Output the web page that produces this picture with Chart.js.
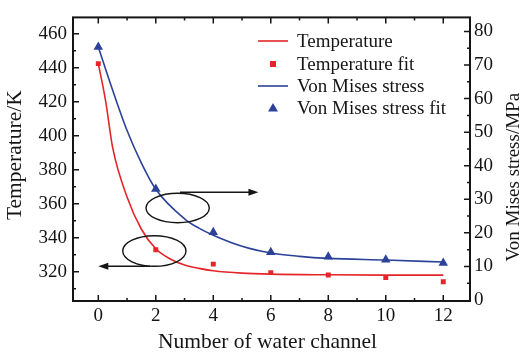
<!DOCTYPE html>
<html>
<head>
<meta charset="utf-8">
<script src="https://cdn.jsdelivr.net/npm/chart.js@4.4.1/dist/chart.umd.min.js"></script>
<style>
  html, body { margin: 0; padding: 0; background: #fff; }
  #wrap { width: 522px; height: 354px; }
  .probe { font-family: "Liberation Serif"; position: absolute; left: -999px; top: 0; }
</style>
</head>
<body>
<span class="probe">Temperature 0123</span>
<div id="wrap"><canvas id="c" width="522" height="354"></canvas></div>
<script>
// measured points (fit markers)
var channels = [0, 2, 4, 6, 8, 10, 12];
var tempFit = [442.4, 333.0, 324.5, 319.5, 318.1, 316.6, 314.1];
var stressFit = [75.4, 33.1, 20.2, 14.2, 12.9, 12.0, 11.0];

// curves
var tempCurveX = [0, 0.25, 0.5, 1, 1.5, 2, 2.5, 3, 3.5, 4, 5, 6, 8, 10, 12];
var tempCurve = [442.4, 421, 393, 364, 345, 333.5, 327.5, 324, 322, 320.6, 319.2, 318.6, 318.2, 318.0, 318.0];
var stressCurveX = [0, 0.5, 1, 1.5, 2, 3, 3.5, 4, 5, 6, 7, 8, 10, 12];
var stressCurve = [75.4, 62.5, 50.5, 40.8, 33.0, 24.2, 21.4, 19.3, 16.0, 14.0, 13.0, 12.4, 11.9, 11.3];

var xTicks = [0, 2, 4, 6, 8, 10, 12];
var tempTicks = [320, 340, 360, 380, 400, 420, 440, 460];
var stressTicks = [0, 10, 20, 30, 40, 50, 60, 70, 80];

var xTitle = 'Number of water channel';
var yTitle = 'Temperature/K';
var y2Title = 'Von Mises stress/MPa';

var red = 'rgb(228,38,42)';
var blue = 'rgb(44,66,152)';
var ink = '#151515';
var serif = '"Liberation Serif", "Times New Roman", Times, serif';

function pairs(xs, ys) {
	var out = [];
	for (var i = 0; i < xs.length; i++) out.push({x: xs[i], y: ys[i]});
	return out;
}
function fixTicks(list) {
	return function (scale) {
		scale.ticks = list.map(function (v) { return {value: v}; });
	};
}

var labels = ['Temperature', 'Temperature fit', 'Von Mises stress', 'Von Mises stress fit'];

var decor = {
	id: 'decor',
	afterDatasetsDraw: function (chart) {
		var ctx = chart.ctx, a = chart.chartArea;
		var sx = chart.scales.x, sy = chart.scales.y, sy2 = chart.scales.y2;
		ctx.save();
		ctx.strokeStyle = ink;
		ctx.fillStyle = ink;

		// inward ticks
		ctx.lineWidth = 1.5;
		ctx.beginPath();
		for (var v = 0; v <= 12; v++) {
			var px = sx.getPixelForValue(v), len = v % 2 === 0 ? 6 : 3;
			ctx.moveTo(px, a.bottom); ctx.lineTo(px, a.bottom - len);
			ctx.moveTo(px, a.top); ctx.lineTo(px, a.top + len);
		}
		for (var t = 310; t <= 460; t += 10) {
			var py = sy.getPixelForValue(t), l2 = t % 20 === 0 ? 6 : 3;
			ctx.moveTo(a.left, py); ctx.lineTo(a.left + l2, py);
		}
		for (var s = 5; s <= 80; s += 5) {
			var py2 = sy2.getPixelForValue(s), l3 = s % 10 === 0 ? 6 : 3;
			ctx.moveTo(a.right, py2); ctx.lineTo(a.right - l3, py2);
		}
		ctx.stroke();

		// frame
		ctx.lineWidth = 2;
		ctx.strokeRect(a.left, a.top, a.right - a.left, a.bottom - a.top);

		// ellipses
		ctx.lineWidth = 1.4;
		ctx.beginPath();
		ctx.ellipse(sx.getPixelForValue(2.76), sy2.getPixelForValue(27.4),
			sx.getPixelForValue(1.1) - sx.getPixelForValue(0),
			sy2.getPixelForValue(0) - sy2.getPixelForValue(4.4), 0, 0, Math.PI * 2);
		ctx.stroke();
		ctx.beginPath();
		ctx.ellipse(sx.getPixelForValue(1.95), sy.getPixelForValue(332.2),
			sx.getPixelForValue(1.1) - sx.getPixelForValue(0),
			sy.getPixelForValue(323.2) - sy.getPixelForValue(332.2), 0, 0, Math.PI * 2);
		ctx.stroke();

		// arrows
		function arrow(x0, x1, y) {
			var dir = x1 > x0 ? 1 : -1;
			ctx.beginPath();
			ctx.moveTo(x0, y); ctx.lineTo(x1 - dir * 6, y);
			ctx.stroke();
			ctx.beginPath();
			ctx.moveTo(x1, y);
			ctx.lineTo(x1 - dir * 10, y - 3.5);
			ctx.lineTo(x1 - dir * 10, y + 3.5);
			ctx.closePath();
			ctx.fill();
		}
		var ya = sy2.getPixelForValue(32.1);
		arrow(sx.getPixelForValue(2.84), sx.getPixelForValue(5.57), ya);
		var yb = sy.getPixelForValue(323.2);
		arrow(sx.getPixelForValue(1.8), sx.getPixelForValue(0), yb);

		// legend
		ctx.font = '19px ' + serif;
		ctx.textBaseline = 'middle';
		ctx.textAlign = 'left';
		var rows = [41, 64, 86, 108];
		for (var i = 0; i < 4; i++) {
			var ds = chart.data.datasets[i], y0 = rows[i];
			if (ds.showLine) {
				ctx.strokeStyle = ds.borderColor;
				ctx.lineWidth = 1.6;
				ctx.beginPath(); ctx.moveTo(258, y0); ctx.lineTo(288, y0); ctx.stroke();
			} else if (ds.pointStyle === 'rect') {
				ctx.fillStyle = ds.backgroundColor;
				ctx.fillRect(270, y0 - 3, 6, 6);
			} else {
				ctx.fillStyle = ds.backgroundColor;
				ctx.beginPath();
				ctx.moveTo(273, y0 - 5); ctx.lineTo(278, y0 + 3.5); ctx.lineTo(268, y0 + 3.5);
				ctx.closePath(); ctx.fill();
			}
			ctx.fillStyle = ink;
			ctx.fillText(ds.label, 297, y0 + 1);
		}

		// axis titles
		ctx.textAlign = 'center';
		ctx.font = '21.5px ' + serif;
		ctx.fillText(xTitle, (a.left + a.right) / 2 - 4, 342);

		ctx.save();
		ctx.translate(15, (a.top + a.bottom) / 2 - 4);
		ctx.rotate(-Math.PI / 2);
		ctx.fillText(yTitle, 0, 0);
		ctx.restore();

		// right axis title reads bottom to top
		ctx.font = '19px ' + serif;
		ctx.save();
		ctx.translate(514, (a.top + a.bottom) / 2 + 18);
		ctx.rotate(-Math.PI / 2);
		ctx.fillText(y2Title, 0, 0);
		ctx.restore();

		ctx.restore();
	}
};

function draw() {
	new Chart(document.getElementById('c'), {
		type: 'line',
		data: {
			datasets: [{
				label: labels[0],
				data: pairs(tempCurveX, tempCurve),
				yAxisID: 'y',
				showLine: true,
				borderColor: red,
				borderWidth: 1.6,
				pointRadius: 0,
				cubicInterpolationMode: 'monotone'
			}, {
				label: labels[1],
				data: pairs(channels, tempFit),
				yAxisID: 'y',
				showLine: false,
				pointStyle: 'rect',
				pointRadius: 3.5,
				backgroundColor: red,
				borderColor: red,
				borderWidth: 0
			}, {
				label: labels[2],
				data: pairs(stressCurveX, stressCurve),
				yAxisID: 'y2',
				showLine: true,
				borderColor: blue,
				borderWidth: 1.6,
				pointRadius: 0,
				cubicInterpolationMode: 'monotone'
			}, {
				label: labels[3],
				data: pairs(channels, stressFit),
				yAxisID: 'y2',
				showLine: false,
				pointStyle: 'triangle',
				pointRadius: 5.5,
				backgroundColor: blue,
				borderColor: blue,
				borderWidth: 0
			}]
		},
		options: {
			responsive: false,
			devicePixelRatio: 1,
			animation: false,
			layout: { padding: { top: 7, left: 0, right: 0, bottom: 0 }, autoPadding: false },
			plugins: { legend: { display: false }, tooltip: { enabled: false } },
			scales: {
				x: {
					type: 'linear',
					min: -0.88, max: 12.93,
					afterBuildTicks: fixTicks(xTicks),
					afterFit: function (s) { s.height = 53; },
					grid: { display: false, drawTicks: false },
					border: { display: false },
					ticks: { color: ink, padding: 4, font: { family: serif, size: 19 } }
				},
				y: {
					position: 'left',
					min: 302.8, max: 469.6,
					afterBuildTicks: fixTicks(tempTicks),
					afterFit: function (s) { s.width = 73; },
					grid: { display: false, drawTicks: false },
					border: { display: false },
					ticks: { color: ink, padding: 6, font: { family: serif, size: 19 } }
				},
				y2: {
					position: 'right',
					min: -0.3, max: 84.2,
					afterBuildTicks: fixTicks(stressTicks),
					afterFit: function (s) { s.width = 52; },
					grid: { display: false, drawTicks: false },
					border: { display: false },
					ticks: { color: ink, padding: 4, font: { family: serif, size: 19 } }
				}
			}
		},
		plugins: [decor]
	});
}

if (document.fonts && document.fonts.load) {
	document.fonts.load('19px "Liberation Serif"').then(draw, draw);
} else {
	draw();
}
</script>
</body>
</html>
